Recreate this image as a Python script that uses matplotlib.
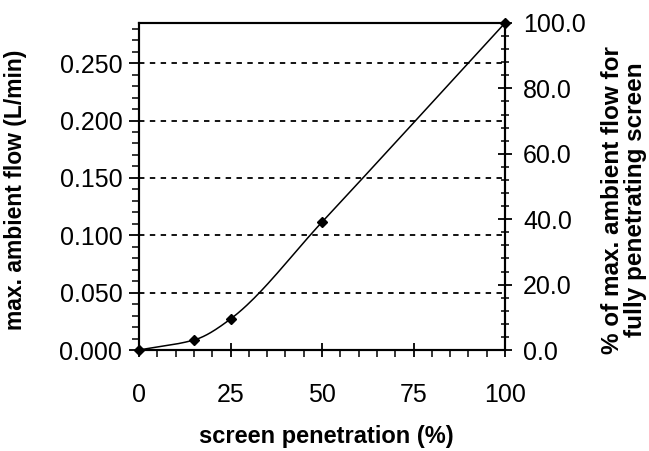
import numpy as np
import matplotlib.pyplot as plt
from matplotlib.ticker import MultipleLocator, FormatStrFormatter

plt.rcParams['font.family'] = ['Liberation Sans', 'DejaVu Sans']

# data
penetration = [0, 15, 25, 50, 100]
flow = [0.0, 0.0087, 0.027, 0.1115, 0.285]
flow_max = 0.285

W, H = 649, 451
fig = plt.figure(figsize=(W/100, H/100), dpi=100)
ax1 = fig.add_axes([139/W, 1-350/H, (505-139)/W, (350-23)/H])

# smooth-ish curve through the points (monotone cubic)
xs = np.array(penetration, float)
ys = np.array(flow, float)
d = np.diff(ys)/np.diff(xs)
m = np.zeros_like(ys)
m[0] = d[0]; m[-1] = d[-1]
for i in range(1, len(xs)-1):
    m[i] = 0 if d[i-1]*d[i] <= 0 else 2/(1/d[i-1] + 1/d[i])
xx, yy = [], []
for i in range(len(xs)-1):
    h = xs[i+1]-xs[i]
    t = np.linspace(0, 1, 40)
    h00 = 2*t**3-3*t**2+1; h10 = t**3-2*t**2+t
    h01 = -2*t**3+3*t**2; h11 = t**3-t**2
    xx.extend(xs[i]+t*h)
    yy.extend(h00*ys[i]+h10*h*m[i]+h01*ys[i+1]+h11*h*m[i+1])
ax1.plot(xx, yy, color='black', lw=1.1, clip_on=False, zorder=3)
ax1.plot(penetration, flow, 'D', color='black', ms=5.5, clip_on=False, zorder=4)

for yv in [0.05, 0.10, 0.15, 0.20, 0.25]:
    ax1.axhline(yv, color='black', ls=(0, (3, 3)), lw=1.3, zorder=1)

ax1.set_xlim(0, 100)
ax1.set_ylim(0, flow_max)
ax1.xaxis.set_major_locator(MultipleLocator(25))
ax1.xaxis.set_minor_locator(MultipleLocator(5))
ax1.yaxis.set_major_locator(MultipleLocator(0.05))
ax1.yaxis.set_minor_locator(MultipleLocator(0.01))
ax1.yaxis.set_major_formatter(FormatStrFormatter('%.3f'))
ax1.tick_params(axis='x', which='major', direction='inout', length=10, width=1.3, labelsize=18, pad=19)
ax1.tick_params(axis='x', which='minor', direction='out', length=5, width=1.1)
ax1.tick_params(axis='y', which='major', direction='out', length=7, width=1.3, labelsize=18, pad=5)
ax1.tick_params(axis='y', which='minor', direction='out', length=5, width=1.1)
for s in ax1.spines.values():
    s.set_linewidth(1.5)

ax2 = ax1.twinx()
ax2.set_ylim(0, 100)
ax2.yaxis.set_major_locator(MultipleLocator(20))
ax2.yaxis.set_minor_locator(MultipleLocator(4))
ax2.yaxis.set_major_formatter(FormatStrFormatter('%.1f'))
ax2.tick_params(axis='y', which='major', direction='inout', length=10, width=1.3, labelsize=18, pad=8)
ax2.tick_params(axis='y', which='minor', direction='inout', length=6, width=1.1)
for s in ax2.spines.values():
    s.set_linewidth(1.5)

# axis titles
fig.text(326/W, 1-436/H, 'screen penetration (%)', fontsize=17, fontweight='bold',
         ha='center', va='center')
fig.text(16/W, 1-190/H, 'max. ambient flow (L/min)', fontsize=16.5, fontweight='bold',
         ha='center', va='center', rotation=90)
fig.text(624/W, 1-200/H, '% of max. ambient flow for\nfully penetrating screen', fontsize=17.5,
         fontweight='bold', ha='center', va='center', rotation=90, linespacing=1.05)

fig.savefig('out.png', dpi=100)
